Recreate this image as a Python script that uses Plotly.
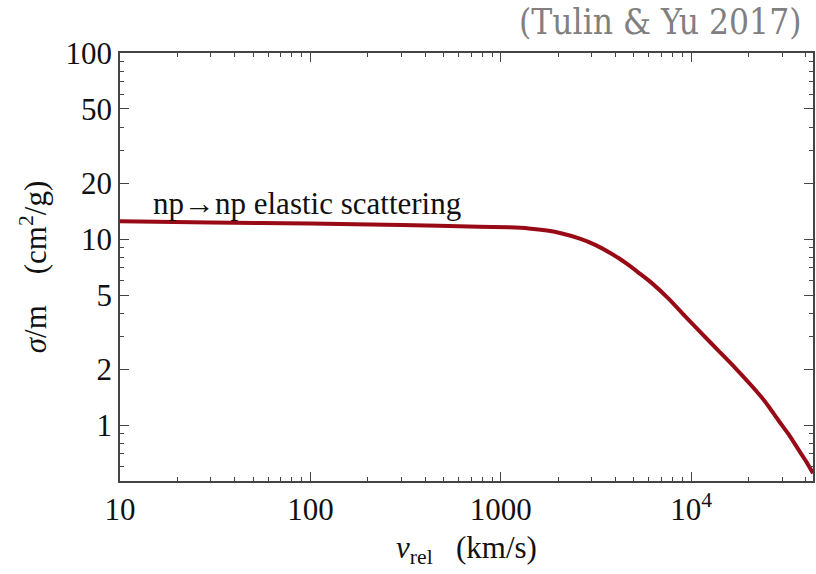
import plotly.graph_objects as go
import numpy as np

# Data
v_rel = [10, 30, 100, 300, 767, 1100, 1400, 1750, 2094, 2600, 3130, 4150, 4680, 5300,
         6190, 7600, 9270, 11300, 13840, 17000, 20700, 24500, 28500, 32500, 36300, 40000, 43600]
sigma_m = [12.45, 12.25, 12.1, 11.9, 11.65, 11.55, 11.4, 11.1, 10.7, 10.05, 9.3, 7.9, 7.25, 6.58,
           5.81, 4.78, 3.85, 3.12, 2.52, 2.03, 1.63, 1.33, 1.07, 0.89, 0.746, 0.64, 0.55]

x_tickvals = [10, 100, 1000, 10000]
x_ticktext = ["10", "100", "1000", "10<sup>4</sup>"]
y_tickvals = [1, 2, 5, 10, 20, 50, 100]
y_ticktext = ["1", "2", "5", "10", "20", "50", "100"]

x_minor = [m * d for d in [10, 100, 1000, 10000] for m in range(2, 10)]
y_minor = [0.6, 0.7, 0.8, 0.9, 3, 4, 6, 7, 8, 9, 30, 40, 60, 70, 80, 90]

FONT = "Liberation Serif"
AX = "#444444"
TXT = "#111111"

fig = go.Figure()
fig.add_trace(go.Scatter(x=v_rel, y=sigma_m, mode="lines",
                         line=dict(color="#980a16", width=4, shape="spline", smoothing=0.6),
                         showlegend=False))

axis_common = dict(showline=True, mirror="ticks", linecolor=AX, linewidth=1.5,
                   ticks="inside", ticklen=9, tickwidth=1.2, tickcolor=AX,
                   showgrid=False, zeroline=False,
                   tickfont=dict(family=FONT, size=31, color=TXT))

fig.update_xaxes(type="log", range=[1, np.log10(43600)],
                 tickvals=x_tickvals, ticktext=x_ticktext,
                 minor=dict(tickvals=x_minor, ticks="inside", ticklen=4, tickcolor=AX, tickwidth=1),
                 title=dict(text="<i>v</i><sub>rel</sub>\u00a0\u00a0\u00a0(km/s)",
                            font=dict(family=FONT, size=31, color=TXT), standoff=10),
                 **axis_common)
fig.update_yaxes(type="log", range=[np.log10(0.5), 2],
                 tickvals=y_tickvals, ticktext=y_ticktext,
                 minor=dict(tickvals=y_minor, ticks="inside", ticklen=4, tickcolor=AX, tickwidth=1),
                 title=dict(text="<i>σ</i>/m\u00a0\u00a0\u00a0\u00a0(cm<sup>2</sup>/g)",
                            font=dict(family=FONT, size=31, color=TXT), standoff=10),
                 **axis_common)

fig.add_annotation(x=np.log10(14.5), y=np.log10(15.6), xref="x", yref="y",
                   text="np→np elastic scattering", showarrow=False,
                   xanchor="left", yanchor="middle",
                   font=dict(family=FONT, size=31, color=TXT))

fig.add_annotation(x=(805 - 120) / 695, y=1 + 31 / 428, xref="paper", yref="paper",
                   text="(Tulin & Yu 2017)", showarrow=False,
                   xanchor="right", yanchor="middle",
                   font=dict(family="DejaVu Serif Condensed, DejaVu Serif", size=35, color="#808080"))

fig.update_layout(width=816, height=574,
                  margin=dict(l=120, r=1, t=53, b=93),
                  plot_bgcolor="white", paper_bgcolor="white")

fig.write_html("out.html")
